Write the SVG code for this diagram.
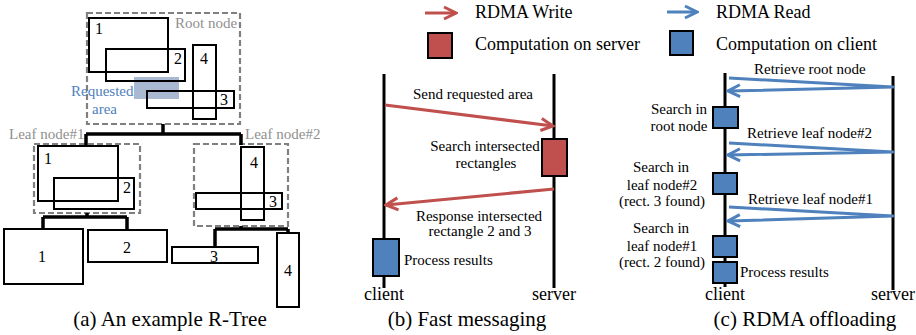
<svg xmlns="http://www.w3.org/2000/svg" width="916" height="335" viewBox="0 0 916 335">
<style>
.r{fill:none;stroke:#000;stroke-width:2}
.d{fill:none;stroke:#808080;stroke-width:2.2;stroke-dasharray:6 3}
.tree{fill:none;stroke:#000;stroke-width:3.5}
.t{font-family:"Liberation Serif","Times New Roman",serif;fill:#000}
.n{font-size:16px}
.s{font-size:15px}
.l{font-size:18px}
.c{font-size:21px}
.g{fill:#8f8f8f}
.m{text-anchor:middle}
.life{stroke:#000;stroke-width:3}
.red{fill:none;stroke:#c0504d;stroke-width:3}
.blue{fill:none;stroke:#4f81bd;stroke-width:3;stroke-linejoin:round}
.rb{fill:#c0504d;stroke:#000;stroke-width:2}
.bb{fill:#4f81bd;stroke:#000;stroke-width:2}
</style>
<defs>
<marker id="ar" markerUnits="userSpaceOnUse" markerWidth="16" markerHeight="16" viewBox="0 0 16 16" refX="14" refY="8" orient="auto"><path d="M2,2 L14,8 L2,14" fill="none" stroke="#c0504d" stroke-width="3"/></marker>
<marker id="ab" markerUnits="userSpaceOnUse" markerWidth="16" markerHeight="16" viewBox="0 0 16 16" refX="14" refY="8" orient="auto"><path d="M2,2 L14,8 L2,14" fill="none" stroke="#4f81bd" stroke-width="3"/></marker>
</defs>

<!-- Panel (a) -->
<g id="root-node">
<rect x="134" y="77" width="45" height="22" fill="#a9b9d1"/>
<rect class="d" x="87" y="13" width="153" height="111"/>
<rect class="r" x="89" y="18" width="79" height="54"/>
<rect class="r" x="106" y="49" width="79" height="32"/>
<rect class="r" x="193" y="45" width="23" height="74"/>
<rect class="r" x="147" y="91" width="87" height="17"/>
<text class="t n" x="95" y="34">1</text>
<text class="t n" x="174" y="64">2</text>
<text class="t n" x="200" y="64">4</text>
<text class="t n" x="220" y="105">3</text>
<text class="t s g" x="175" y="28">Root node</text>
<text class="t s" x="71" y="96" fill="#4f81bd" style="fill:#4f81bd">Requested</text>
<text class="t s" x="92" y="114" style="fill:#4f81bd">area</text>
</g>
<g id="leaf-node-1">
<rect class="d" x="34" y="144" width="106" height="69"/>
<rect class="r" x="38" y="146" width="80" height="55"/>
<rect class="r" x="54" y="178" width="80" height="31"/>
<text class="t n" x="44" y="164">1</text>
<text class="t n" x="123" y="193">2</text>
<text class="t s g" x="9" y="139">Leaf node#1</text>
</g>
<g id="leaf-node-2">
<rect class="d" x="194" y="144" width="94" height="82"/>
<rect class="r" x="241" y="147" width="23" height="73"/>
<rect class="r" x="196" y="193" width="86" height="16"/>
<text class="t n" x="250" y="168">4</text>
<text class="t n" x="269" y="207">3</text>
<text class="t s g" x="245" y="139">Leaf node#2</text>
</g>
<g id="rect-1"><rect class="r" x="4" y="229" width="79" height="55"/><text class="t n m" x="42" y="262">1</text></g>
<g id="rect-2"><rect class="r" x="88" y="230" width="79" height="32"/><text class="t n m" x="127" y="253">2</text></g>
<g id="rect-3"><rect class="r" x="172" y="247" width="86" height="16"/><text class="t n m" x="214" y="262">3</text></g>
<g id="rect-4"><rect class="r" x="277" y="233" width="22" height="74"/><text class="t n m" x="288" y="276">4</text></g>
<text class="t c m" x="170" y="326">(a) An example R-Tree</text>

<!-- Panel (b) -->
<g id="legend-b">
<line class="red" x1="425" y1="13" x2="456" y2="13" marker-end="url(#ar)"/>
<text class="t l" x="475" y="18">RDMA Write</text>
<rect class="rb" x="428" y="33" width="24" height="25"/>
<text class="t l" x="475" y="50">Computation on server</text>
</g>
<g id="client-b">
<line class="life" x1="384" y1="74" x2="384" y2="288"/>
<text class="t l m" x="384" y="300">client</text>
</g>
<g id="server-b">
<line class="life" x1="554" y1="74" x2="554" y2="288"/>
<text class="t l m" x="554" y="300">server</text>
</g>
<g id="server-search-b">
<rect class="rb" x="542" y="139" width="25" height="37"/>
<text class="t s m" x="485" y="151">Search intersected</text>
<text class="t s m" x="486" y="168">rectangles</text>
</g>
<g id="client-process-b">
<rect class="bb" x="373" y="239" width="26" height="37"/>
<text class="t s" x="404" y="265">Process results</text>
</g>
<text class="t c m" x="467" y="326">(b) Fast messaging</text>

<!-- Panel (c) -->
<g id="legend-c">
<line class="blue" x1="667" y1="12" x2="697" y2="12" marker-end="url(#ab)"/>
<text class="t l" x="716" y="18">RDMA Read</text>
<rect class="bb" x="670" y="31" width="23" height="24"/>
<text class="t l" x="716" y="50">Computation on client</text>
</g>
<g id="client-c">
<line class="life" x1="725" y1="73" x2="725" y2="287"/>
<text class="t l m" x="725" y="300">client</text>
</g>
<g id="server-c">
<line class="life" x1="893" y1="76" x2="893" y2="290"/>
<text class="t l m" x="893" y="300">server</text>
</g>
<g id="search-root-c">
<rect class="bb" x="713" y="107" width="25" height="21"/>
<text class="t s m" x="679" y="114">Search in</text>
<text class="t s m" x="679" y="131">root node</text>
</g>
<g id="search-leaf2-c">
<rect class="bb" x="713" y="173" width="24" height="21"/>
<text class="t s m" x="661" y="172">Search in</text>
<text class="t s m" x="662" y="190">leaf node#2</text>
<text class="t s m" x="662" y="206">(rect. 3 found)</text>
</g>
<g id="search-leaf1-c">
<rect class="bb" x="713" y="236" width="24" height="21"/>
<text class="t s m" x="661" y="233">Search in</text>
<text class="t s m" x="662" y="251">leaf node#1</text>
<text class="t s m" x="662" y="267">(rect. 2 found)</text>
</g>
<g id="process-c">
<rect class="bb" x="713" y="262" width="24" height="21"/>
<text class="t s" x="740" y="277">Process results</text>
</g>
<text class="t c m" x="805" y="326">(c) RDMA offloading</text>

<!-- Connectors -->
<g id="connectors">
<path class="tree" d="M163,124 V134 M86,134 H241 M86,134 V145 M241,134 V145"/>
<path class="tree" d="M87,213 V217 M43,217 H127 M43,217 V229 M127,217 V230"/>
<path class="tree" d="M241,226 V229 M215,229 H288 M215,229 V247 M288,229 V233"/>
<line class="red" x1="385" y1="105" x2="553" y2="126" marker-end="url(#ar)"/>
<text class="t s" x="413" y="99">Send requested area</text>
<line class="red" x1="554" y1="189" x2="386" y2="205" marker-end="url(#ar)"/>
<text class="t s m" x="479" y="221">Response intersected</text>
<text class="t s m" x="480" y="236">rectangle 2 and 3</text>
<polyline class="blue" points="729,78 893,87 728,91" marker-end="url(#ab)"/>
<text class="t s" x="754" y="74">Retrieve root node</text>
<polyline class="blue" points="729,143 893,152 728,155" marker-end="url(#ab)"/>
<text class="t s" x="747" y="138">Retrieve leaf node#2</text>
<polyline class="blue" points="729,207 893,216 728,221" marker-end="url(#ab)"/>
<text class="t s" x="748" y="204">Retrieve leaf node#1</text>
</g>
</svg>
